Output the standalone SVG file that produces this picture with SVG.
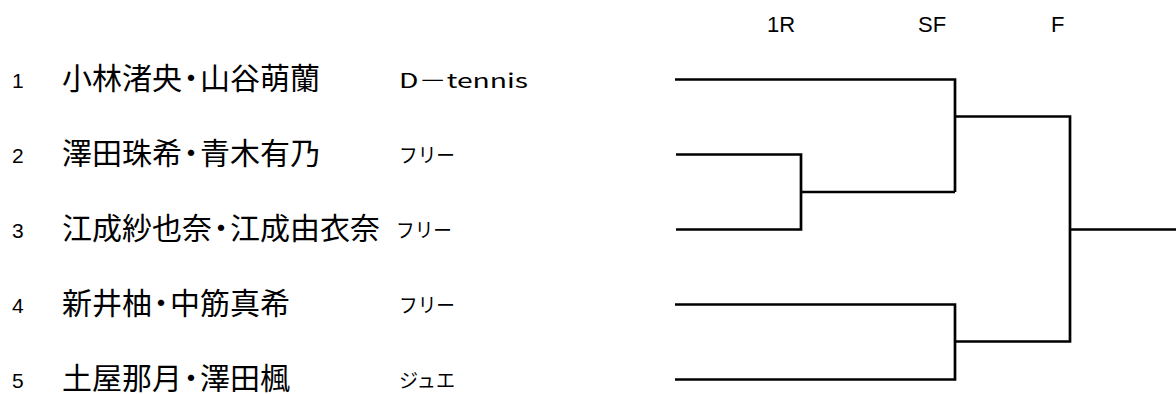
<svg xmlns="http://www.w3.org/2000/svg" width="1176" height="394" viewBox="0 0 1176 394">
<style>
.num{font-family:"Liberation Sans","Noto Sans CJK JP",sans-serif;font-size:21px;fill:#000}
.name{font-family:"Noto Sans CJK JP",sans-serif;font-size:30px;fill:#000}
.club{font-family:"Noto Sans CJK JP",sans-serif;font-size:20px;fill:#000}
.hdr{font-family:"Liberation Sans",sans-serif;font-size:22px;fill:#000}
.ln{fill:none;stroke:#000;stroke-width:2.7;stroke-linecap:butt;stroke-linejoin:miter}
</style>
<rect width="1176" height="394" fill="#fff"/>
<g id="headers">
<text class="hdr" x="767" y="32">1R</text>
<text class="hdr" x="918" y="32">SF</text>
<text class="hdr" x="1051" y="32">F</text>
</g>
<g id="p1">
<text class="num" x="12" y="88">1</text>
<text class="name" x="62" y="89">小林渚央<tspan dx="-6">・</tspan><tspan dx="-6">山谷萌蘭</tspan></text>
<text class="club" x="399" y="88" textLength="129" lengthAdjust="spacingAndGlyphs">D－tennis</text>
</g>
<g id="p2">
<text class="num" x="12" y="163">2</text>
<text class="name" x="62" y="164">澤田珠希<tspan dx="-6">・</tspan><tspan dx="-6">青木有乃</tspan></text>
<text class="club" x="399" y="163" textLength="56" lengthAdjust="spacingAndGlyphs">フリー</text>
</g>
<g id="p3">
<text class="num" x="12" y="238">3</text>
<text class="name" x="62" y="239">江成紗也奈<tspan dx="-6">・</tspan><tspan dx="-6">江成由衣奈</tspan></text>
<text class="club" x="396" y="238" textLength="56" lengthAdjust="spacingAndGlyphs">フリー</text>
</g>
<g id="p4">
<text class="num" x="12" y="313">4</text>
<text class="name" x="62" y="314">新井柚<tspan dx="-6">・</tspan><tspan dx="-6">中筋真希</tspan></text>
<text class="club" x="399" y="313" textLength="56" lengthAdjust="spacingAndGlyphs">フリー</text>
</g>
<g id="p5">
<text class="num" x="12" y="388">5</text>
<text class="name" x="62" y="389">土屋那月<tspan dx="-6">・</tspan><tspan dx="-6">澤田楓</tspan></text>
<text class="club" x="399" y="388" textLength="56" lengthAdjust="spacingAndGlyphs">ジュエ</text>
</g>
<g id="connectors">
<path class="ln" d="M675 79.5H955V192"/>
<path class="ln" d="M676 154.5H801V229.5H676"/>
<path class="ln" d="M801 192H955"/>
<path class="ln" d="M955 116.5H1070V341.5H955"/>
<path class="ln" d="M675 304.5H955V379.5H675"/>
<path class="ln" d="M1070 229.5H1176"/>
</g>
</svg>
